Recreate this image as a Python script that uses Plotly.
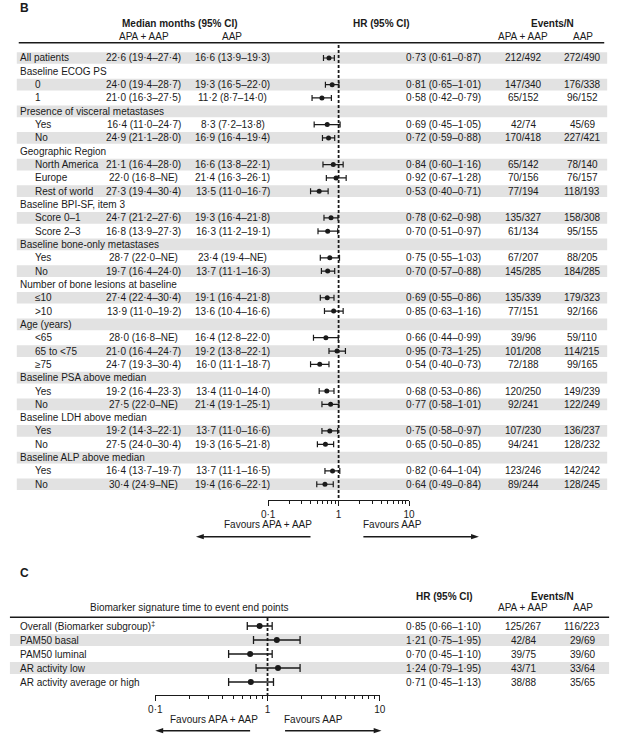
import plotly.graph_objects as go

W, H = 621, 735
FONT = "Liberation Sans, Arial, sans-serif"
INK = "#1a1a1a"
BAND = "#e2e2e2"

# ---------------- Panel B data ----------------
b_labels = ["All patients", "Baseline ECOG PS", "0", "1",
            "Presence of visceral metastases", "Yes", "No",
            "Geographic Region", "North America", "Europe", "Rest of world",
            "Baseline BPI-SF, item 3", "Score 0–1", "Score 2–3",
            "Baseline bone-only metastases", "Yes", "No",
            "Number of bone lesions at baseline", "≤10", ">10",
            "Age (years)", "<65", "65 to <75", "≥75",
            "Baseline PSA above median", "Yes", "No",
            "Baseline LDH above median", "Yes", "No",
            "Baseline ALP above median", "Yes", "No"]
b_indent = [0, 0, 1, 1, 0, 1, 1, 0, 1, 1, 1, 0, 1, 1, 0, 1, 1, 0, 1, 1,
            0, 1, 1, 1, 0, 1, 1, 0, 1, 1, 0, 1, 1]
b_apa_median = ["22·6 (19·4–27·4)", "", "24·0 (19·4–28·7)", "21·0 (16·3–27·5)",
                "", "16·4 (11·0–24·7)", "24·9 (21·1–28·0)",
                "", "21·1 (16·4–28·0)", "22·0 (16·8–NE)", "27·3 (19·4–30·4)",
                "", "24·7 (21·2–27·6)", "16·8 (13·9–27·3)",
                "", "28·7 (22·0–NE)", "19·7 (16·4–24·0)",
                "", "27·4 (22·4–30·4)", "13·9 (11·0–19·2)",
                "", "28·0 (16·8–NE)", "21·0 (16·4–24·7)", "24·7 (19·3–30·4)",
                "", "19·2 (16·4–23·3)", "27·5 (22·0–NE)",
                "", "19·2 (14·3–22·1)", "27·5 (24·0–30·4)",
                "", "16·4 (13·7–19·7)", "30·4 (24·9–NE)"]
b_aap_median = ["16·6 (13·9–19·3)", "", "19·3 (16·5–22·0)", "11·2 (8·7–14·0)",
                "", "8·3 (7·2–13·8)", "16·9 (16·4–19·4)",
                "", "16·6 (13·8–22·1)", "21·4 (16·3–26·1)", "13·5 (11·0–16·7)",
                "", "19·3 (16·4–21·8)", "16·3 (11·2–19·1)",
                "", "23·4 (19·4–NE)", "13·7 (11·1–16·3)",
                "", "19·1 (16·4–21·8)", "13·6 (10·4–16·6)",
                "", "16·4 (12·8–22·0)", "19·2 (13·8–22·1)", "16·0 (11·1–18·7)",
                "", "13·4 (11·0–14·0)", "21·4 (19·1–25·1)",
                "", "13·7 (11·0–16·6)", "19·3 (16·5–21·8)",
                "", "13·7 (11·1–16·5)", "19·4 (16·6–22·1)"]
b_hr = [0.73, None, 0.81, 0.58, None, 0.69, 0.72, None, 0.84, 0.92, 0.53,
        None, 0.78, 0.70, None, 0.75, 0.70, None, 0.69, 0.85,
        None, 0.66, 0.95, 0.54, None, 0.68, 0.77, None, 0.75, 0.65,
        None, 0.82, 0.64]
b_lo = [0.61, None, 0.65, 0.42, None, 0.45, 0.59, None, 0.60, 0.67, 0.40,
        None, 0.62, 0.51, None, 0.55, 0.57, None, 0.55, 0.63,
        None, 0.44, 0.73, 0.40, None, 0.53, 0.58, None, 0.58, 0.50,
        None, 0.64, 0.49]
b_hi = [0.87, None, 1.01, 0.79, None, 1.05, 0.88, None, 1.16, 1.28, 0.71,
        None, 0.98, 0.97, None, 1.03, 0.88, None, 0.86, 1.16,
        None, 0.99, 1.25, 0.73, None, 0.86, 1.01, None, 0.97, 0.85,
        None, 1.04, 0.84]
b_ev_apa = ["212/492", "", "147/340", "65/152", "", "42/74", "170/418",
            "", "65/142", "70/156", "77/194", "", "135/327", "61/134",
            "", "67/207", "145/285", "", "135/339", "77/151",
            "", "39/96", "101/208", "72/188", "", "120/250", "92/241",
            "", "107/230", "94/241", "", "123/246", "89/244"]
b_ev_aap = ["272/490", "", "176/338", "96/152", "", "45/69", "227/421",
            "", "78/140", "76/157", "118/193", "", "158/308", "95/155",
            "", "88/205", "184/285", "", "179/323", "92/166",
            "", "59/110", "114/215", "99/165", "", "149/239", "122/249",
            "", "136/237", "128/232", "", "142/242", "128/245"]

# ---------------- Panel C data ----------------
c_labels = ["Overall (Biomarker subgroup)<sup>‡</sup>", "PAM50 basal", "PAM50 luminal",
            "AR activity low", "AR activity average or high"]
c_hr = [0.85, 1.21, 0.70, 1.24, 0.71]
c_lo = [0.66, 0.75, 0.45, 0.79, 0.45]
c_hi = [1.10, 1.95, 1.10, 1.95, 1.13]
c_ev_apa = ["125/267", "42/84", "39/75", "43/71", "38/88"]
c_ev_aap = ["116/223", "29/69", "39/60", "33/64", "35/65"]

tick_vals = [0.1, 1, 10]
tick_text = ["0·1", "1", "10"]
minor_vals = [0.2, 0.3, 0.4, 0.5, 0.6, 0.7, 0.8, 0.9, 2, 3, 4, 5, 6, 7, 8, 9]


def fmt(v):
    return f"{v:.2f}".replace(".", "·")


def px(x):
    return x / W


def py(y):
    return 1 - y / H


fig = go.Figure()

# ----- Panel B marks -----
idx_b = [i for i, v in enumerate(b_hr) if v is not None]
fig.add_trace(go.Scatter(
    x=[b_hr[i] for i in idx_b], y=idx_b, mode="markers",
    marker=dict(color=INK, size=5),
    error_x=dict(type="data", symmetric=False,
                 array=[b_hi[i] - b_hr[i] for i in idx_b],
                 arrayminus=[b_hr[i] - b_lo[i] for i in idx_b],
                 color=INK, thickness=1.2, width=3),
    xaxis="x", yaxis="y", showlegend=False, hoverinfo="skip"))

# ----- Panel C marks -----
idx_c = list(range(len(c_hr)))
fig.add_trace(go.Scatter(
    x=c_hr, y=idx_c, mode="markers",
    marker=dict(color=INK, size=6),
    error_x=dict(type="data", symmetric=False,
                 array=[h - m for h, m in zip(c_hi, c_hr)],
                 arrayminus=[m - l for m, l in zip(c_hr, c_lo)],
                 color=INK, thickness=1.3, width=4),
    xaxis="x2", yaxis="y2", showlegend=False, hoverinfo="skip"))

shapes = []
ann = []


def text(x, y, s, anchor="center", bold=False, size=10, yref="paper"):
    if bold:
        s = f"<b>{s}</b>"
    ann.append(dict(x=px(x), y=y if yref != "paper" else py(y), xref="paper", yref=yref,
                    text=s, showarrow=False, xanchor=anchor, yanchor="middle",
                    borderpad=0, font=dict(family=FONT, size=size, color=INK)))


# Panel B bands
nB = len(b_labels)
for i in range(0, nB, 2):
    shapes.append(dict(type="rect", xref="paper", yref="y", x0=px(10), x1=px(613),
                       y0=i - 0.44, y1=i + 0.44, fillcolor=BAND, line=dict(width=0),
                       layer="below"))
# Panel C bands
for i in range(1, len(c_labels), 2):
    shapes.append(dict(type="rect", xref="paper", yref="y2", x0=px(3), x1=px(615),
                       y0=i - 0.43, y1=i + 0.43, fillcolor=BAND, line=dict(width=0),
                       layer="below"))

# rules
shapes.append(dict(type="line", xref="paper", yref="paper", x0=px(12), x1=px(610),
                   y0=py(42.7), y1=py(42.7), line=dict(color=INK, width=1.5)))
shapes.append(dict(type="line", xref="paper", yref="paper", x0=px(3), x1=px(615),
                   y0=py(617.2), y1=py(617.2), line=dict(color=INK, width=1.5)))
# dashed reference lines
shapes.append(dict(type="line", xref="x", yref="paper", x0=1, x1=1,
                   y0=py(45), y1=py(500), line=dict(color=INK, width=1.8, dash="3px,2px")))
shapes.append(dict(type="line", xref="x2", yref="paper", x0=1, x1=1,
                   y0=py(618), y1=py(695), line=dict(color=INK, width=1.8, dash="3px,2px")))

# arrows drawn as line + filled head
for (x0, x1, y) in [(310, 193, 536.7), (364, 482, 536.7), (248.3, 151.5, 730.7), (284, 382.5, 730.7)]:
    d = 1 if x1 > x0 else -1
    shapes.append(dict(type="line", xref="paper", yref="paper", x0=px(x0), x1=px(x1 - d * 5),
                       y0=py(y), y1=py(y), line=dict(color=INK, width=1.6)))
    shapes.append(dict(type="path", xref="paper", yref="paper",
                       path=f"M {px(x1)} {py(y)} L {px(x1 - d * 8)} {py(y - 2.6)} "
                            f"L {px(x1 - d * 8)} {py(y + 2.6)} Z",
                       fillcolor=INK, line=dict(width=0)))

# ----- Panel B text -----
text(12, 8, "B", anchor="left", bold=True, size=12)
text(177, 24, "Median months (95% CI)", bold=True)
text(140, 36, "APA + AAP")
text(230, 36, "AAP")
text(382, 24, "HR (95% CI)", bold=True)
text(557.5, 24, "Events/N", bold=True)
text(527, 36, "APA + AAP")
text(588, 36, "AAP")

for i in range(nB):
    text(12 if b_indent[i] == 0 else 28, i, b_labels[i], anchor="left", yref="y")
    if b_hr[i] is not None:
        text(139.5, i, b_apa_median[i], yref="y")
        text(230.5, i, b_aap_median[i], yref="y")
        text(446, i, f"{fmt(b_hr[i])} ({fmt(b_lo[i])}–{fmt(b_hi[i])})", yref="y")
        text(528, i, b_ev_apa[i], yref="y")
        text(587.5, i, b_ev_aap[i], yref="y")

text(267, 524.3, "Favours APA + AAP")
text(394, 524.3, "Favours AAP")

# ----- Panel C text -----
text(12, 573, "C", anchor="left", bold=True, size=12)
text(186, 607.5, "Biomarker signature time to event end points")
text(447, 596, "HR (95% CI)", bold=True)
text(557.5, 596, "Events/N", bold=True)
text(527, 607, "APA + AAP")
text(588, 607, "AAP")
for i in range(len(c_labels)):
    text(12, i, c_labels[i], anchor="left", yref="y2")
    text(446, i, f"{fmt(c_hr[i])} ({fmt(c_lo[i])}–{fmt(c_hi[i])})", yref="y2")
    text(528, i, c_ev_apa[i], yref="y2")
    text(587.5, i, c_ev_aap[i], yref="y2")
text(211, 719.5, "Favours APA + AAP")
text(313, 719.5, "Favours AAP")

axis_common = dict(type="log", range=[-1, 1], anchor="free", showline=True,
                   linecolor=INK, linewidth=1.2, ticks="outside", ticklen=5,
                   tickwidth=1.2, tickcolor=INK, tickmode="array",
                   tickvals=tick_vals, ticktext=tick_text,
                   tickfont=dict(family=FONT, size=10, color=INK),
                   showgrid=False, zeroline=False, fixedrange=True,
                   minor=dict(tickmode="array", tickvals=minor_vals, ticks="outside",
                              ticklen=3, tickwidth=1, tickcolor=INK, showgrid=False))

fig.update_layout(
    width=W, height=H, margin=dict(l=0, r=0, t=0, b=0),
    paper_bgcolor="white", plot_bgcolor="rgba(0,0,0,0)",
    font=dict(family=FONT, size=10, color=INK),
    xaxis=dict(domain=[px(266.7), px(410.7)], position=py(500), **axis_common),
    xaxis2=dict(domain=[px(151.5), px(380.7)], position=py(695), **axis_common),
    yaxis=dict(domain=[py(51.34 + 13.32 * nB), py(51.34)], range=[nB - 0.5, -0.5],
               visible=False, anchor="free", position=0, fixedrange=True),
    yaxis2=dict(domain=[py(689), py(619)], range=[4.5, -0.5],
                visible=False, anchor="free", position=0, fixedrange=True),
    shapes=shapes, annotations=ann,
)

fig.write_html("out.html", config={"displayModeBar": False},
               post_script="document.body.style.margin='0';document.body.style.padding='0';")
